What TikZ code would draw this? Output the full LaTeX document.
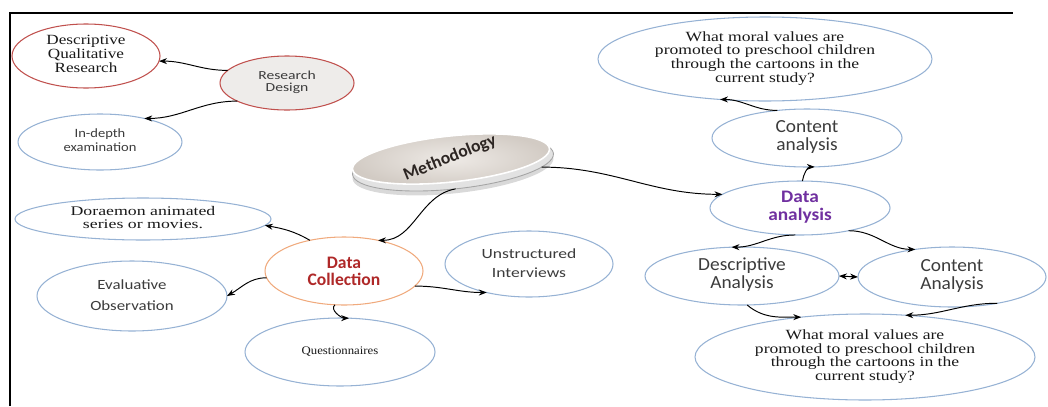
\documentclass[tikz,border=0pt]{standalone}
\usepackage{fontspec}
\setmainfont{Liberation Serif}
\newfontfamily\carlito{Carlito}
\usepackage{graphicx}
\usetikzlibrary{shapes.geometric,arrows.meta,shadows}
\definecolor{eblue}{RGB}{150,178,212}
\definecolor{ered}{RGB}{192,80,77}
\definecolor{eorange}{RGB}{240,170,125}
\definecolor{dcred}{RGB}{175,40,40}
\definecolor{dapurple}{RGB}{112,48,160}
\definecolor{sanstext}{RGB}{60,60,60}
\definecolor{seriftext}{RGB}{25,25,25}
\definecolor{rdfill}{RGB}{238,236,234}
\definecolor{rimfill}{RGB}{226,226,226}
\definecolor{rimdraw}{RGB}{165,165,165}
\definecolor{topin}{RGB}{238,234,230}
\definecolor{topout}{RGB}{210,203,196}
\definecolor{methtext}{RGB}{45,38,35}
\newcommand{\sx}[2]{\scalebox{#1}[1]{\begin{tabular}{@{}c@{}}#2\end{tabular}}}
\begin{document}
\begin{tikzpicture}[x=0.02cm,y=-0.02cm,
  ell/.style 2 args={ellipse, inner sep=0pt, outer sep=0pt,
    minimum width={2*#1*0.02cm}, minimum height={2*#2*0.02cm},
    line width=0.6pt, fill=white, align=center},
  bluee/.style={draw=eblue},
  rede/.style={draw=ered},
  serifq/.style={font=\fontsize{8}{7.6}\selectfont, text=seriftext},
  sansn/.style={text=sanstext},
  conn/.style={draw=black, line width=0.55pt, -{Stealth[length=4.5pt,width=3.4pt]}},
  dconn/.style={draw=black, line width=0.55pt, {Stealth[length=4.5pt,width=3.4pt]}-{Stealth[length=4.5pt,width=3.4pt]}},
  frameline/.style={draw=black, line width=1.2pt}
]
\useasboundingbox (0,0) rectangle (1048,406);
% frame
\draw[frameline] (10,406) -- (10,13) -- (1013,13);

% left upper cluster
\node[ell={74}{32}, rede, serifq] (dqr) at (86,56)
  {\sx{1.22}{Descriptive\\Qualitative\\Research}};
\node[ell={67}{27}, draw=ered, fill=rdfill, sansn,
      font=\carlito\fontsize{7}{7}\selectfont] (rd) at (287,83)
  {\sx{1.27}{Research\\Design}};
\node[ell={82}{28}, bluee, sansn,
      font=\carlito\fontsize{7.2}{7.8}\selectfont] (ide) at (100,142)
  {\sx{1.15}{In-depth\\examination}};

% methodology disc
\node[ell={101}{25}, rotate=6, fill=rimfill, draw=rimdraw, line width=0.5pt,
      drop shadow={shadow xshift=0pt, shadow yshift=-2.5pt, opacity=0.3}] (methrim) at (453,164) {};
\node[ell={99}{23}, rotate=6, draw=white, line width=0.9pt,
      inner color=topin, outer color=topout] (meth) at (451,159) {};
\node[rotate=22, font=\carlito\bfseries\fontsize{10}{10}\selectfont, text=methtext] (methtxt) at (450,158) {Methodology};

% data collection cluster
\node[ell={128}{21}, bluee, font=\fontsize{7.5}{7.2}\selectfont, text=seriftext] (dor) at (143,219)
  {\sx{1.35}{Doraemon animated\\series or movies.}};
\node[ell={79}{34}, draw=eorange, text=dcred,
      font=\carlito\bfseries\fontsize{10}{9.6}\selectfont] (dc) at (344,271)
  {Data\\Collection};
\node[ell={84}{33}, bluee, sansn,
      font=\carlito\fontsize{8}{11}\selectfont] (uns) at (529,264)
  {\sx{1.25}{Unstructured\\Interviews}};
\node[ell={95}{35}, bluee, sansn,
      font=\carlito\fontsize{8}{12}\selectfont] (eva) at (132,296)
  {\sx{1.2}{Evaluative\\Observation}};
\node[ell={95}{34}, bluee, font=\fontsize{6.6}{7}\selectfont, text=seriftext] (que) at (340,352)
  {\sx{1.1}{Questionnaires}};

% right cluster
\node[ell={167}{42}, bluee, serifq] (q1) at (765,59)
  {\sx{1.25}{What moral values are\\promoted to preschool children\\through the cartoons in the\\current study?}};
\node[ell={95}{29}, bluee, sansn,
      font=\carlito\fontsize{10.5}{10.2}\selectfont] (ca1) at (807,138)
  {\sx{1.05}{Content\\analysis}};
\node[ell={90}{27}, bluee, text=dapurple,
      font=\carlito\bfseries\fontsize{10}{9.6}\selectfont] (da) at (800,208)
  {\sx{1.1}{Data\\analysis}};
\node[ell={97}{29}, bluee, sansn,
      font=\carlito\fontsize{10.5}{9.8}\selectfont] (desa) at (742,276)
  {\sx{1.05}{Descriptive\\Analysis}};
\node[ell={94}{30}, bluee, sansn,
      font=\carlito\fontsize{10.5}{9.8}\selectfont] (cona) at (952,277)
  {\sx{1.05}{Content\\Analysis}};
\node[ell={170}{43}, bluee, serifq] (q2) at (865,357)
  {\sx{1.25}{What moral values are\\promoted to preschool children\\through the cartoons in the\\current study?}};

% connectors
\draw[conn] (rd.168) to[out=180,in=0] (dqr.-4);
\draw[conn] (rd.200) to[out=180,in=0] (ide.28);
\draw[conn] (methrim.south) to[out=190,in=0] (dc.42);
\draw[conn] (methrim.-8) to[out=0,in=180] (da.170);
\draw[conn] (dc.138) to[out=150,in=-10] (dor.-3);
\draw[conn] (dc.185) to[out=180,in=30] (eva.east);
\draw[conn] (dc.255) to[out=220,in=180] (que.75);
\draw[conn] (dc.-12) to[out=0,in=180] (uns.214);
\draw[conn] (da.85) to[out=80,in=180] (ca1.-75);
\draw[conn] (ca1.137) to[out=180,in=0] (q1.-138);
\draw[conn] (da.-100) to[out=180,in=0] (desa.110);
\draw[conn] (da.-25) to[out=0,in=180] (cona.143);
\draw[dconn] (desa.east) -- (cona.west);
\draw[conn] (desa.-80) to[out=-40,in=180] (q2.148);
\draw[conn] (cona.-30) to[out=180,in=0] (q2.46);
\end{tikzpicture}
\end{document}
